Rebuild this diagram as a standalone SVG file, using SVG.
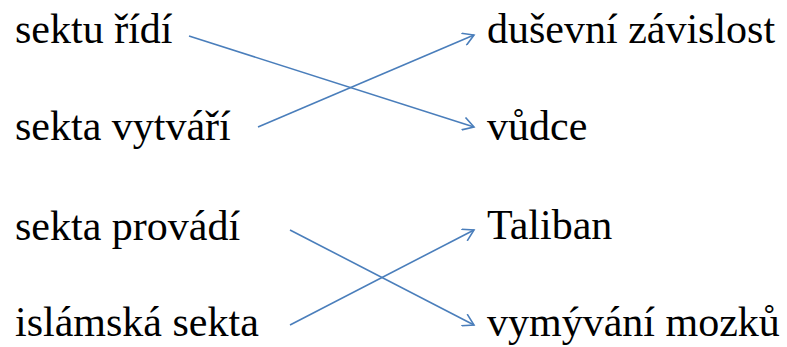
<svg xmlns="http://www.w3.org/2000/svg" width="787" height="347" viewBox="0 0 787 347">
<defs>
<marker id="ah" viewBox="-12 -7 14 14" markerWidth="14" markerHeight="14" refX="0" refY="0" orient="auto" markerUnits="userSpaceOnUse">
<path d="M-11,-6.5 L0,0 L-11,6.5" fill="none" stroke="#4a7ebb" stroke-width="1.6"/>
</marker>
</defs>
<rect width="787" height="347" fill="#fff"/>
<g id="n1"><text x="15" y="43" font-family="Liberation Serif" font-size="42">sektu řídí</text></g>
<g id="n2"><text x="15" y="140" font-family="Liberation Serif" font-size="42">sekta vytváří</text></g>
<g id="n3"><text x="15" y="240" font-family="Liberation Serif" font-size="42">sekta provádí</text></g>
<g id="n4"><text x="15" y="336" font-family="Liberation Serif" font-size="42">islámská sekta</text></g>
<g id="n5"><text x="487" y="43" font-family="Liberation Serif" font-size="42">duševní závislost</text></g>
<g id="n6"><text x="487" y="140" font-family="Liberation Serif" font-size="42">vůdce</text></g>
<g id="n7"><text x="487" y="239" font-family="Liberation Serif" font-size="42">Taliban</text></g>
<g id="n8"><text x="487" y="336" font-family="Liberation Serif" font-size="42">vymývání mozků</text></g>
<g id="connectors" stroke="#4a7ebb" stroke-width="1.6" fill="none" marker-end="url(#ah)">
<line x1="189" y1="36" x2="474" y2="127"/>
<line x1="258" y1="127" x2="474" y2="35"/>
<line x1="290" y1="230" x2="474" y2="325"/>
<line x1="290" y1="325" x2="474" y2="230"/>
</g>
</svg>
